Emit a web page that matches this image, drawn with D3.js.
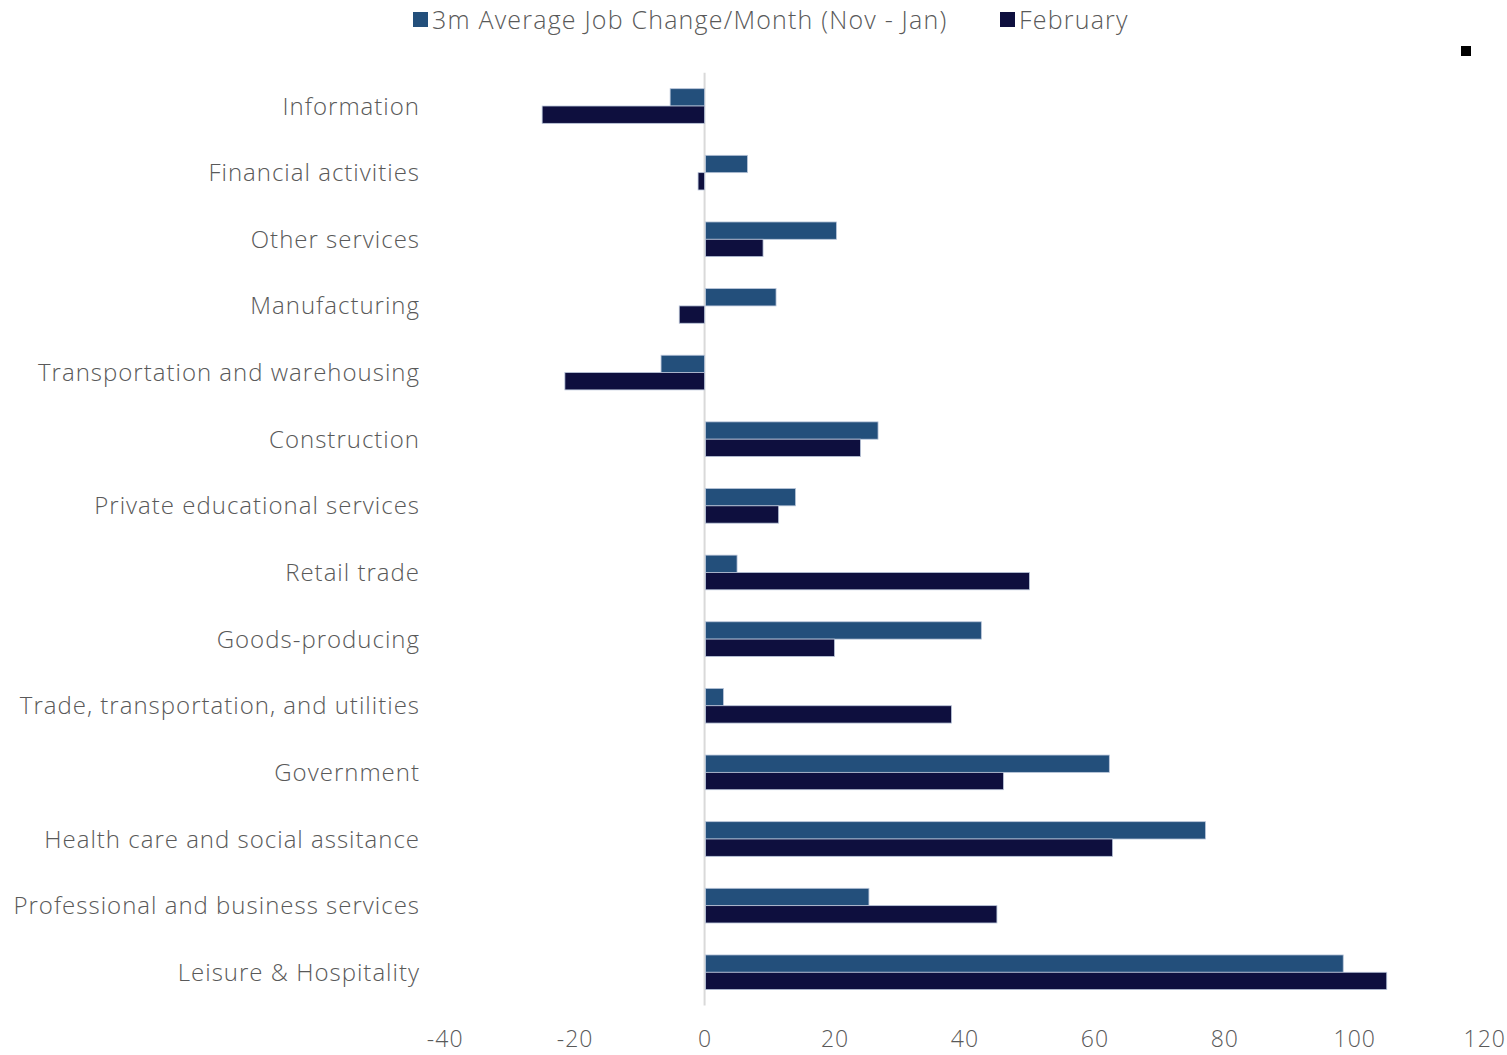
<!DOCTYPE html>
<html>
<head>
<meta charset="utf-8">
<script src="https://cdn.jsdelivr.net/npm/d3@7"></script>
<style>
  html, body { margin: 0; padding: 0; background: #fff; }
  svg { display: block; }
  text { font-family: "Open Sans", "Lato", sans-serif; font-weight: 300; fill: #595959; }
</style>
</head>
<body>
<svg id="chart" width="1507" height="1055"></svg>
<script>
// Sectors, top to bottom
const categories = [
  "Information",
  "Financial activities",
  "Other services",
  "Manufacturing",
  "Transportation and warehousing",
  "Construction",
  "Private educational services",
  "Retail trade",
  "Goods-producing",
  "Trade, transportation, and utilities",
  "Government",
  "Health care and social assitance",
  "Professional and business services",
  "Leisure & Hospitality"
];

const seriesNames = ["3m Average Job Change/Month (Nov - Jan)", "February"];

// Job change (thousands)
const avg3m = [-5.3, 6.6, 20.3, 11.0, -6.7, 26.7, 14.0, 5.0, 42.6, 2.9, 62.3, 77.1, 25.3, 98.3];
const february = [-25.0, -1.0, 9.0, -3.9, -21.5, 24.0, 11.4, 50.0, 20.0, 38.0, 46.0, 62.8, 45.0, 105.0];

const xTicks = [-40, -20, 0, 20, 40, 60, 80, 100, 120];

const colors = ["#234f7b", "#0e0f3e"];

const svg = d3.select("#chart");

const x = d3.scaleLinear().domain([-40, 120]).range([444.7, 1484.2]);

const y = d3.scaleBand()
  .domain(categories)
  .range([72.7, 1005.6])
  .paddingInner(0.48)
  .paddingOuter(0.24);

const ySub = d3.scaleBand()
  .domain([0, 1])
  .range([0, y.bandwidth()]);

const rows = categories.map((c, i) => ({ cat: c, vals: [avg3m[i], february[i]] }));

// Zero baseline
svg.append("line")
  .attr("x1", x(0)).attr("x2", x(0))
  .attr("y1", 72.7).attr("y2", 1005.6)
  .attr("stroke", "#d9d9d9")
  .attr("stroke-width", 2);

// Bars
const g = svg.append("g");
rows.forEach(r => {
  r.vals.forEach((v, s) => {
    g.append("rect")
      .attr("x", x(Math.min(0, v)) + (v >= 0 ? 1 : 0))
      .attr("y", y(r.cat) + ySub(s))
      .attr("width", Math.abs(x(v) - x(0)) - (v >= 0 ? 1 : 0))
      .attr("height", ySub.bandwidth())
      .attr("fill", colors[s])
      .attr("stroke", "#b9c5d9")
      .attr("stroke-width", 0.8);
  });
});

// Category labels
svg.append("g")
  .selectAll("text")
  .data(categories)
  .join("text")
  .attr("x", 420)
  .attr("y", d => y(d) + y.bandwidth() / 2 - 1)
  .attr("text-anchor", "end")
  .attr("dominant-baseline", "central")
  .style("font-size", "24px")
  .style("letter-spacing", "1px")
  .text(d => d);

// X axis labels (plain hyphen for negatives)
const xAxis = d3.axisBottom(x)
  .tickValues(xTicks)
  .tickFormat(d => String(d))
  .tickSize(0)
  .tickPadding(0);
const ax = svg.append("g").attr("transform", "translate(0,1030)").call(xAxis);
ax.select(".domain").remove();
ax.selectAll("text")
  .attr("dy", "0.32em")
  .attr("y", 10)
  .style("font-family", "'Open Sans', 'Lato', sans-serif")
  .style("font-weight", 300)
  .style("font-size", "23px")
  .style("letter-spacing", "1px")
  .style("fill", "#595959");

// Legend
const legend = svg.append("g");
const legendX = [413, 1000];
seriesNames.forEach((name, i) => {
  legend.append("rect")
    .attr("x", legendX[i]).attr("y", 12)
    .attr("width", 15).attr("height", 15)
    .attr("fill", colors[i]);
  legend.append("text")
    .attr("x", legendX[i] + 19)
    .attr("y", 19)
    .attr("dominant-baseline", "central")
    .style("font-size", "25px")
    .style("letter-spacing", "1.2px")
    .text(name);
});

// Small corner marker
svg.append("rect")
  .attr("x", 1461).attr("y", 46)
  .attr("width", 10).attr("height", 10)
  .attr("fill", "#000");
</script>
</body>
</html>
